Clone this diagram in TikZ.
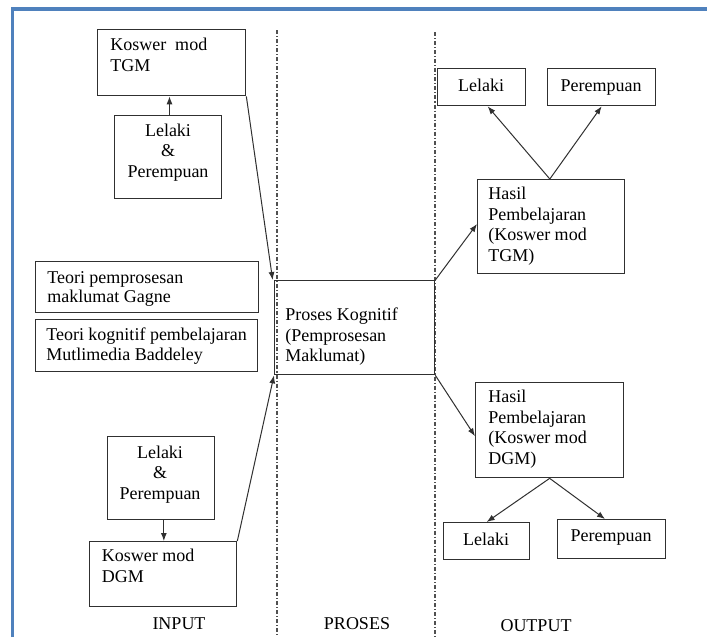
\documentclass[tikz,border=0pt]{standalone}
\usepackage{fontspec}
\setmainfont{Liberation Serif}
\usetikzlibrary{arrows.meta}
\definecolor{frameblue}{HTML}{4F81BD}
\definecolor{ink}{HTML}{303030}
\definecolor{rule}{HTML}{505050}

\begin{document}
\begin{tikzpicture}[x=0.75pt,y=-0.75pt,
  box/.style 2 args={draw=ink, line width=1pt, inner sep=0pt, anchor=north west,
    minimum width=#1*0.75pt, minimum height=#2*0.75pt},
  % multi-line texts are placed by the baseline of their last line
  txt/.style={inner sep=0pt, anchor=base west, align=left,
    font=\fontsize{13.5}{15.3}\selectfont},
  ctxt/.style={inner sep=0pt, anchor=base, align=center,
    font=\fontsize{13.5}{15.3}\selectfont},
  arr/.style={draw=ink, line width=0.75pt, -{Latex[length=6pt,width=4.5pt]}},
  divider/.style={draw=rule, line width=0.8pt,
    dash pattern=on 3pt off 1.5pt on 0.8pt off 1.5pt}
]
\useasboundingbox (0,0) rectangle (707,637);
\fill[white] (0,0) rectangle (707,637);

% page frame
\draw[frameblue, line width=2.5pt] (12.5,637) -- (12.5,9) -- (707,9);

% column dividers
\coordinate (d1top) at (277,30);
\coordinate (d1bot) at (277,637);
\coordinate (d2top) at (435,32);
\coordinate (d2bot) at (435,637);
\draw[divider] (d1top) -- (d1bot);
\draw[divider] (d2top) -- (d2bot);

% INPUT column
\node[box={148}{66}] (ktgm) at (97,29) {};
\node[txt] (ktgmt) at (110,71) {Koswer\ \ mod\\TGM};

\node[box={107}{83}] (lpt) at (114,115) {};
\node[ctxt] (lptt) at (168,177) {Lelaki\\\&\\Perempuan};

\node[box={223}{51}] (teori1) at (35,261) {};
\node[txt, font=\fontsize{13.5}{14.3}\selectfont] (teori1t) at (47,302.3)
  {Teori pemprosesan\\maklumat Gagne};

\node[box={222}{52}] (teori2) at (35,319) {};
\node[txt, font=\fontsize{13.5}{14.5}\selectfont] (teori2t) at (46,360)
  {Teori kognitif pembelajaran\\Mutlimedia Baddeley};

\node[box={107}{83}] (lpb) at (107,436) {};
\node[ctxt] (lpbt) at (160,499.3) {Lelaki\\\&\\Perempuan};

\node[box={147}{65}] (kdgm) at (89,541) {};
\node[txt] (kdgmt) at (101.7,582.3) {Koswer mod\\DGM};

% PROSES column
\node[box={160}{94}] (proses) at (274,280) {};
\node[txt] (prosest) at (285,361.7) {Proses Kognitif\\(Pemprosesan\\Maklumat)};

% OUTPUT column
\node[box={147}{94}] (htgm) at (477,179) {};
\node[txt] (htgmt) at (488,261) {Hasil\\Pembelajaran\\(Koswer mod\\TGM)};

\node[box={148}{95}] (hdgm) at (475,382) {};
\node[txt] (hdgmt) at (488,464) {Hasil\\Pembelajaran\\(Koswer mod\\DGM)};

\node[box={88}{37}] (olt) at (437,68) {};
\node[ctxt] (oltt) at (481,91) {Lelaki};
\node[box={108}{37}] (opt) at (547,68) {};
\node[ctxt] (optt) at (601,91) {Perempuan};

\node[box={86}{37}] (olb) at (443,522) {};
\node[ctxt] (olbt) at (486,545) {Lelaki};
\node[box={108}{39}] (opb) at (557,519) {};
\node[ctxt] (opbt) at (611,541.7) {Perempuan};

% column captions
\node[ctxt] (cin) at (179,629) {INPUT};
\node[ctxt] (cpr) at (357,629) {PROSES};
\node[ctxt] (cout) at (536,631.5) {OUTPUT};

% connectors
\draw[arr] ([xshift=1pt]lpt.north) -- ([xshift=1pt]ktgm.south -| lpt.north);
\draw[arr] (ktgm.south east) -- ([xshift=-1pt]proses.north west);
\draw[arr] (kdgm.north east) -- (proses.south west);
\draw[arr] ([xshift=2pt]lpb.north |- lpb.south) -- ([xshift=2pt]kdgm.north -| lpb.north);
\draw[arr] (proses.north east) -- ([yshift=2pt]htgm.west);
\draw[arr] (proses.south east) -- ([yshift=-4.5pt]hdgm.west);
\draw[arr] ([xshift=-1pt]htgm.north) -- ([xshift=4.5pt]olt.south);
\draw[arr] ([xshift=-1pt]htgm.north) -- (opt.south);
\draw[arr] (hdgm.south) -- (olb.north);
\draw[arr] (hdgm.south) -- ([xshift=-5pt]opb.north);
\end{tikzpicture}
\end{document}
